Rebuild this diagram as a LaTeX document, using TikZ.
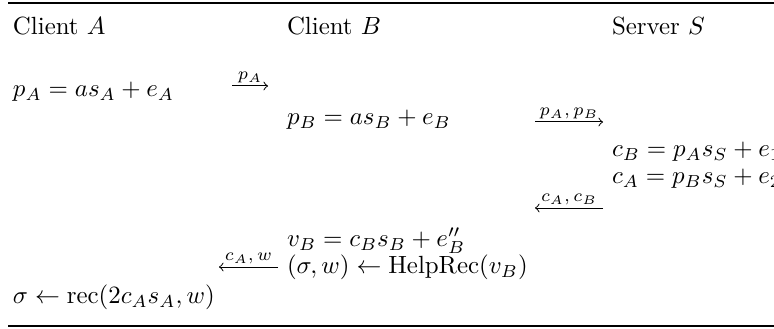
\documentclass[tikz,border=0pt]{standalone}
\begin{document}
\begin{tikzpicture}[x=0.402pt,y=-0.402pt,
  txt/.style={anchor=base west, inner sep=0pt, outer sep=0pt},
  msg/.style={->, line width=0.4pt},
  lbl/.style={font=\scriptsize, inner sep=1pt, above},
  rulestyle/.style={line width=1pt}]
\useasboundingbox (0,0) rectangle (774,329);
\clip (0,0) rectangle (774,329);
% rules
\coordinate (rt1) at (8,3); \coordinate (rt2) at (774,3);
\coordinate (rb1) at (8,326); \coordinate (rb2) at (774,326);
\draw[rulestyle] (rt1) -- (rt2);
\draw[rulestyle] (rb1) -- (rb2);
% header
\node[txt] (hA) at (13,35) {Client $A$};
\node[txt] (hB) at (287,35) {Client $B$};
\node[txt] (hS) at (612,35) {Server $S$};
% rows
\node[txt] (pA) at (13,97) {$p_A = as_A + e_A$};
\coordinate (m1s) at (232,86); \coordinate (m1e) at (268,86);
\draw[msg] (m1s) -- node[lbl]{$p_A$} (m1e);
\node[txt] (pB) at (287,125) {$p_B = as_B + e_B$};
\coordinate (m2s) at (535,122); \coordinate (m2e) at (603,122);
\draw[msg] (m2s) -- node[lbl]{$p_A,p_B$} (m2e);
\node[txt] (cB) at (612,157) {$c_B = p_As_S + e_1$};
\node[txt] (cA) at (612,184) {$c_A = p_Bs_S + e_2$};
\coordinate (m3s) at (603,208); \coordinate (m3e) at (535,208);
\draw[msg] (m3s) -- node[lbl]{$c_A,c_B$} (m3e);
\node[txt] (vB) at (287,247) {$v_B = c_Bs_B + e''_B$};
\coordinate (m4s) at (278,267); \coordinate (m4e) at (219,267);
\draw[msg] (m4s) -- node[lbl]{$c_A,w$} (m4e);
\node[txt] (hr) at (287,274) {$(\sigma,w) \leftarrow \mathrm{HelpRec}(v_B)$};
\node[txt] (rec) at (13,304) {$\sigma \leftarrow \mathrm{rec}(2c_As_A,w)$};
\end{tikzpicture}
\end{document}
